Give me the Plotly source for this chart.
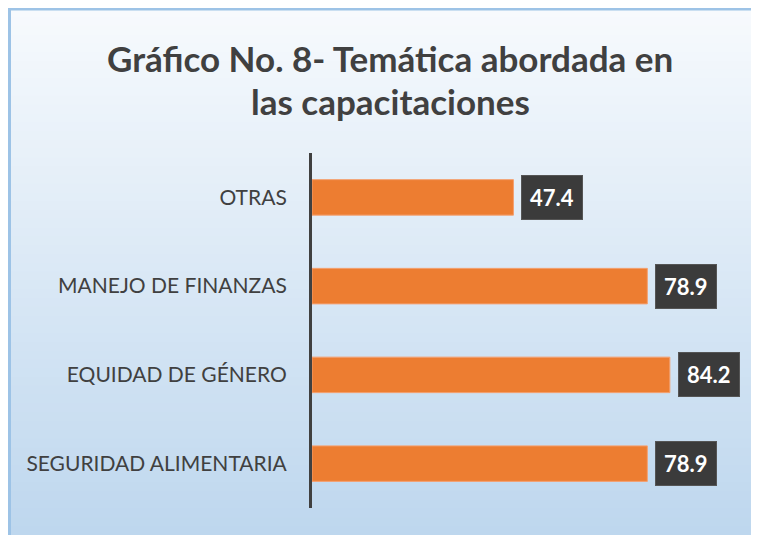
import plotly.graph_objects as go

categories = ["SEGURIDAD ALIMENTARIA", "EQUIDAD DE GÉNERO", "MANEJO DE FINANZAS", "OTRAS"]
values = [78.9, 84.2, 78.9, 47.4]
value_labels = ["78.9", "84.2", "78.9", "47.4"]
title_lines = ["Gráfico No. 8- Temática abordada en", "las capacitaciones"]

# page body has an 8px margin, so the figure is drawn 8px in from the top-left
W, H = 751, 527
L, R, T, B = 304, 22, 145, 27
PW, PH = W - L - R, H - T - B

def px_x(x):
    return (x - L) / PW

def px_y(y):
    return 1 - (y - T) / PH

fig = go.Figure()
fig.add_trace(go.Bar(
    y=categories, x=values, orientation="h",
    marker=dict(color="#ed7d31", line=dict(color="#f4a070", width=1)),
    width=0.4, hoverinfo="skip",
))

top = (247, 250, 253)
bot = (190, 215, 238)
n = 60
shapes = []
for i in range(n):
    t = i / (n - 1)
    c = tuple(int(round(top[k] + (bot[k] - top[k]) * t)) for k in range(3))
    ya = H * i / n
    yb = H * (i + 1) / n + 1
    shapes.append(dict(type="rect", xref="paper", yref="paper", layer="below",
                       x0=px_x(0), x1=px_x(W + 5), y0=px_y(yb), y1=px_y(ya),
                       fillcolor="rgb(%d,%d,%d)" % c, line=dict(width=0)))
shapes.append(dict(type="rect", xref="paper", yref="paper", layer="below",
                   x0=px_x(1.5), x1=px_x(W + 10), y0=px_y(H + 10), y1=px_y(1),
                   fillcolor="rgba(0,0,0,0)", line=dict(color="#9dc3e6", width=3)))

annotations = []
for line, yc in zip(title_lines, [50, 93]):
    annotations.append(dict(x=px_x(382), y=px_y(yc), xref="paper", yref="paper",
                            text="<b>%s</b>" % line, showarrow=False,
                            xanchor="center", yanchor="middle",
                            font=dict(family="Lato, Open Sans, sans-serif", size=35, color="#404040")))

for cat, v, lab in zip(categories, values, value_labels):
    annotations.append(dict(x=v, y=cat, xref="x", yref="y", text="<b>%s</b>" % lab,
                            showarrow=False, xanchor="left", yanchor="middle",
                            xshift=8, yshift=0,
                            font=dict(family="Lato, Open Sans, sans-serif", size=22, color="white"),
                            bgcolor="#3b3b3b", borderpad=8,
                            bordercolor="#555555", borderwidth=1))

fig.update_layout(
    width=W, height=H,
    margin=dict(l=L, r=R, t=T, b=B, pad=0),
    paper_bgcolor="white", plot_bgcolor="rgba(0,0,0,0)",
    showlegend=False,
    xaxis=dict(range=[0, 100], showgrid=False, zeroline=False, showticklabels=False,
               showline=False, ticks=""),
    yaxis=dict(categoryorder="array", categoryarray=categories, showgrid=False,
               showline=True, linecolor="#404040", linewidth=3, ticks="",
               ticklabelstandoff=18,
               tickfont=dict(family="Lato, Open Sans, sans-serif", size=21, color="#404040")),
    shapes=shapes, annotations=annotations,
    bargap=0.6,
)
fig.write_html("out.html")
